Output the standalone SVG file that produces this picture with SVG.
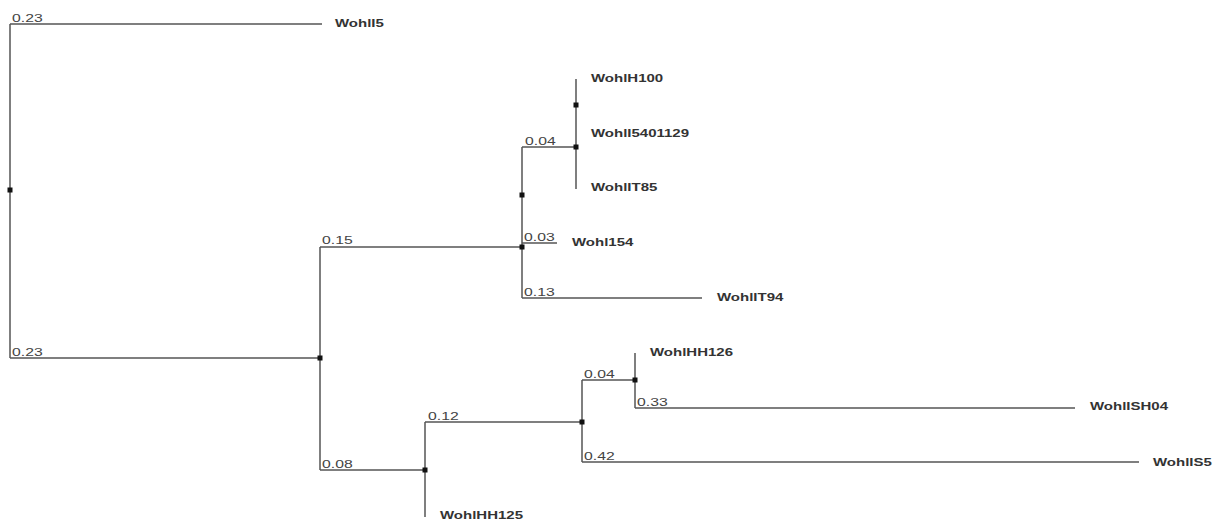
<svg xmlns="http://www.w3.org/2000/svg" width="1216" height="521" viewBox="0 0 1216 521">
<style>
.e{stroke:#555;stroke-width:1.5;fill:none}
.d{fill:#111}
.leaf{font-family:"Liberation Sans",Arial,sans-serif;font-size:10px;font-weight:bold;fill:#333}
.bl{font-family:"Liberation Sans",Arial,sans-serif;font-size:10.5px;fill:#444}
</style>
<rect width="1216" height="521" fill="#fff"/>
<g id="connectors">
<path class="e" d="M10,24V358"/>
<path class="e" d="M10,24H322"/>
<path class="e" d="M10,358H320"/>
<path class="e" d="M320,247V470"/>
<path class="e" d="M320,247H522"/>
<path class="e" d="M320,470H425"/>
<path class="e" d="M522,147V298"/>
<path class="e" d="M522,147H576"/>
<path class="e" d="M522,243H557"/>
<path class="e" d="M522,298H702"/>
<path class="e" d="M576,79V189"/>
<path class="e" d="M425,422V517"/>
<path class="e" d="M425,422H582"/>
<path class="e" d="M582,380V462"/>
<path class="e" d="M582,380H635"/>
<path class="e" d="M582,462H1139"/>
<path class="e" d="M635,353V408"/>
<path class="e" d="M635,408H1075"/>
</g>
<g id="labels">
<text class="bl" transform="translate(12,21.5) scale(1.5,1)">0.23</text>
<text class="bl" transform="translate(12,355.5) scale(1.5,1)">0.23</text>
<text class="bl" transform="translate(322,244) scale(1.5,1)">0.15</text>
<text class="bl" transform="translate(525,145) scale(1.5,1)">0.04</text>
<text class="bl" transform="translate(524,241) scale(1.5,1)">0.03</text>
<text class="bl" transform="translate(524,295.5) scale(1.5,1)">0.13</text>
<text class="bl" transform="translate(322,468) scale(1.5,1)">0.08</text>
<text class="bl" transform="translate(428,419.5) scale(1.5,1)">0.12</text>
<text class="bl" transform="translate(584,377.5) scale(1.5,1)">0.04</text>
<text class="bl" transform="translate(637,405.5) scale(1.5,1)">0.33</text>
<text class="bl" transform="translate(584,459.5) scale(1.5,1)">0.42</text>
</g>
<g id="n-root"><rect class="d" x="7.5" y="187.5" width="5" height="5"/></g>
<g id="n-a"><rect class="d" x="317.5" y="355.5" width="5" height="5"/></g>
<g id="n-b"><rect class="d" x="519.5" y="244.5" width="5" height="5"/></g>
<g id="n-c"><rect class="d" x="519.5" y="192.5" width="5" height="5"/></g>
<g id="n-d"><rect class="d" x="573.5" y="144.5" width="5" height="5"/></g>
<g id="n-e"><rect class="d" x="573.5" y="102.5" width="5" height="5"/></g>
<g id="n-f"><rect class="d" x="422.5" y="467.5" width="5" height="5"/></g>
<g id="n-g"><rect class="d" x="579.5" y="419.5" width="5" height="5"/></g>
<g id="n-h"><rect class="d" x="632.5" y="377.5" width="5" height="5"/></g>
<g id="leaf-WohlI5"><text class="leaf" transform="translate(335,27) scale(1.5,1)">WohlI5</text></g>
<g id="leaf-WohlH100"><text class="leaf" transform="translate(591,82) scale(1.5,1)">WohlH100</text></g>
<g id="leaf-WohlI5401129"><text class="leaf" transform="translate(591,137) scale(1.5,1)">WohlI5401129</text></g>
<g id="leaf-WohlIT85"><text class="leaf" transform="translate(591,191) scale(1.5,1)">WohlIT85</text></g>
<g id="leaf-Wohl154"><text class="leaf" transform="translate(572,246) scale(1.5,1)">Wohl154</text></g>
<g id="leaf-WohlIT94"><text class="leaf" transform="translate(717,301) scale(1.5,1)">WohlIT94</text></g>
<g id="leaf-WohlHH126"><text class="leaf" transform="translate(650,356) scale(1.5,1)">WohlHH126</text></g>
<g id="leaf-WohlISH04"><text class="leaf" transform="translate(1090,410) scale(1.5,1)">WohlISH04</text></g>
<g id="leaf-WohlIS5"><text class="leaf" transform="translate(1153,466) scale(1.5,1)">WohlIS5</text></g>
<g id="leaf-WohlHH125"><text class="leaf" transform="translate(440,519) scale(1.5,1)">WohlHH125</text></g>
</svg>
